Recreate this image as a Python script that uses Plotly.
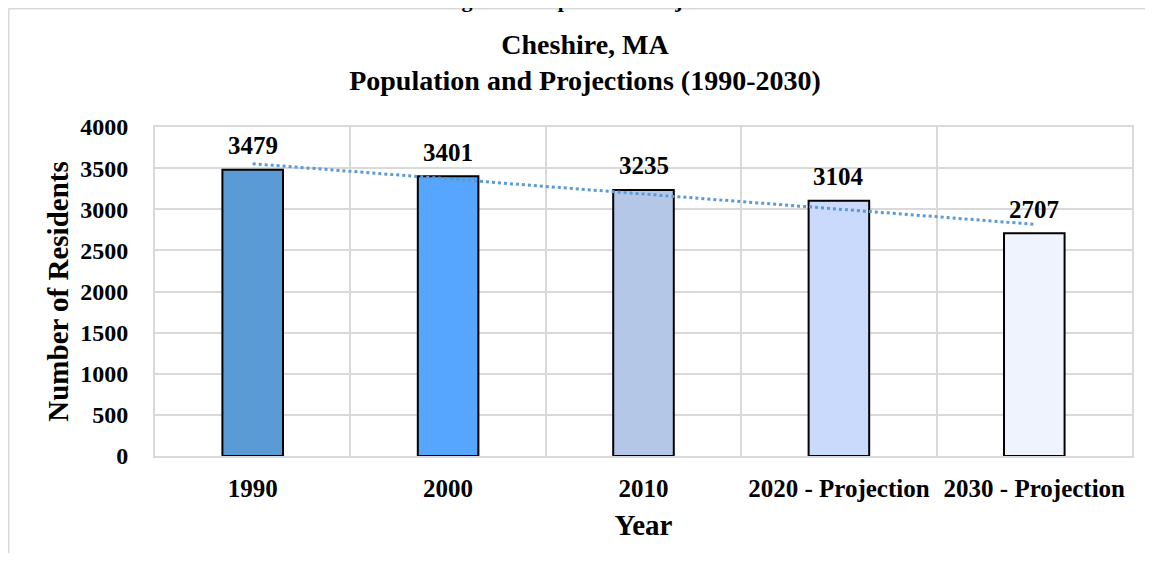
import numpy as np
import plotly.graph_objects as go

categories = ["1990", "2000", "2010", "2020 - Projection", "2030 - Projection"]
population = [3479, 3401, 3235, 3104, 2707]
bar_colors = ["#5B9BD5", "#56A5FF", "#B4C7E7", "#C9DAFC", "#EEF3FE"]
y_ticks = [0, 500, 1000, 1500, 2000, 2500, 3000, 3500, 4000]

x_pos = np.arange(1, len(categories) + 1)
slope, intercept = np.polyfit(x_pos, population, 1)
trend = slope * x_pos + intercept

FONT = "Liberation Serif"
# page has an 8px body margin; figure coords = page coords - 8
# figure kept small enough that the page does not scroll
W, H = 1137, 545
L, R, T, B = 147, 13, 119, 97
pw, ph = W - L - R, H - T - B

def px_x(x):
    return (x - L) / pw

def px_y(y):
    return (H - B - y) / ph

fig = go.Figure()
fig.add_trace(go.Bar(
    x=x_pos, y=population,
    marker=dict(color=bar_colors, line=dict(color="black", width=2)),
    width=0.31, hoverinfo="skip",
))
fig.add_trace(go.Scatter(
    x=x_pos, y=trend, mode="lines",
    line=dict(color="#5B9BD5", width=3, dash="dot"),
    hoverinfo="skip",
))

for xv, v in zip(x_pos, population):
    fig.add_annotation(x=xv, y=v, text=f"<b>{v}</b>", showarrow=False,
                       yanchor="middle", yshift=24,
                       font=dict(family=FONT, size=25, color="black"))

fig.update_layout(
    width=W, height=H,
    margin=dict(l=L, r=R, t=T, b=B),
    paper_bgcolor="white", plot_bgcolor="white",
    showlegend=False,
    font=dict(family=FONT, color="black"),
    title=dict(
        text="<b>Cheshire, MA<br>Population and Projections (1990-2030)</b>",
        x=px_x(577), xref="paper", xanchor="center",
        y=1 - 46 / H, yanchor="middle", yref="container",
        font=dict(family=FONT, size=28, color="black"),
    ),
    xaxis=dict(
        range=[0.5, 5.5], tickvals=list(x_pos), ticktext=[f"<b>{c}</b>" for c in categories],
        tickfont=dict(family=FONT, size=25, color="black"),
        showgrid=False, zeroline=False,
        ticks="outside", ticklen=9, tickcolor="rgba(0,0,0,0)",
        minor=dict(tickvals=[0.5, 1.5, 2.5, 3.5, 4.5, 5.5], showgrid=True,
                   gridcolor="#D9D9D9", gridwidth=2, ticks=""),
        showline=True, linecolor="#D9D9D9", linewidth=2, mirror=True,
        title=dict(text="<b>Year</b>", font=dict(family=FONT, size=29, color="black"), standoff=14),
    ),
    yaxis=dict(
        range=[0, 4000], tickvals=y_ticks, ticktext=[f"<b>{v}</b>" for v in y_ticks],
        tickfont=dict(family=FONT, size=24, color="black"),
        showgrid=True, gridcolor="#D9D9D9", gridwidth=2, zeroline=False,
        ticks="outside", ticklen=20, tickcolor="rgba(0,0,0,0)",
        showline=True, linecolor="#D9D9D9", linewidth=2, mirror=True,
        title=dict(text="<b>Number of Residents</b>", font=dict(family=FONT, size=29, color="black"), standoff=3),
    ),
)

# outer chart-area border: left and top edges (others run off the page)
fig.add_shape(type="line", xref="paper", yref="paper",
              x0=px_x(0.5), x1=px_x(0.5), y0=px_y(H + 20), y1=px_y(0.5),
              line=dict(color="#D9D9D9", width=2), layer="below")
fig.add_shape(type="line", xref="paper", yref="paper",
              x0=px_x(0.5), x1=px_x(W + 20), y0=px_y(0.5), y1=px_y(0.5),
              line=dict(color="#D9D9D9", width=2), layer="below")

# figure caption above, cropped by page top
fig.add_annotation(text="<b>Figure 3: Population Projections</b>", xref="paper", yref="paper",
                   x=px_x(587), y=px_y(6), xanchor="center", yanchor="bottom",
                   showarrow=False, font=dict(family=FONT, size=22, color="black"))

fig.write_html("out.html")
